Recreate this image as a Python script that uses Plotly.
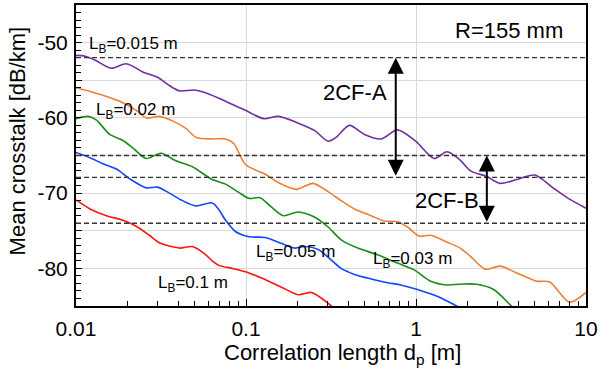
import math
import plotly.graph_objects as go

# ---------------- data ----------------
dp_015 = [0.0100, 0.0113, 0.0129, 0.0161, 0.0198, 0.0247, 0.0302, 0.0354, 0.0405, 0.0495,
          0.0566, 0.0693, 0.0828, 0.0993, 0.127, 0.155, 0.203, 0.254, 0.304, 0.338,
          0.406, 0.498, 0.622, 0.778, 0.995, 1.28, 1.52, 1.82, 2.08, 2.61,
          3.12, 3.91, 5.00, 6.40, 8.00, 10.0]
xt_015 = [-51.7, -51.8, -52.3, -53.4, -52.8, -53.9, -54.6, -55.7, -56.4, -56.3,
          -56.6, -57.4, -58.2, -59.0, -60.1, -59.8, -60.7, -61.7, -63.1, -62.6,
          -61.0, -62.2, -62.8, -61.6, -63.1, -65.4, -64.5, -65.6, -67.0, -67.8,
          -68.7, -68.2, -67.6, -69.3, -70.8, -72.0]

dp_02 = [0.0100, 0.0121, 0.0144, 0.0181, 0.0226, 0.0259, 0.0309, 0.0370, 0.0443, 0.0510,
         0.0633, 0.0758, 0.0847, 0.0993, 0.130, 0.155, 0.198, 0.248, 0.304,
         0.363, 0.435, 0.544, 0.651, 0.778, 0.891, 1.04, 1.22, 1.52, 1.82,
         2.09, 2.55, 3.12, 3.91, 5.11, 6.12, 8.00, 10.0]
xt_02 = [-56.0, -56.5, -57.0, -57.8, -59.0, -60.0, -59.8, -60.4, -61.4, -62.6,
         -62.8, -62.8, -63.4, -66.2, -67.5, -68.6, -69.5, -68.7, -69.8,
         -71.0, -72.1, -73.0, -73.7, -73.8, -74.5, -75.7, -75.6, -76.5, -77.3,
         -78.4, -80.1, -79.7, -80.6, -81.7, -81.8, -84.5, -83.2]

dp_03 = [0.0100, 0.0118, 0.0132, 0.0158, 0.0189, 0.0216, 0.0259, 0.0316, 0.0387, 0.0484,
         0.0633, 0.0758, 0.0906, 0.104, 0.121, 0.142, 0.166, 0.203, 0.254,
         0.304, 0.363, 0.455, 0.595, 0.778, 0.975, 1.22, 1.52, 1.82, 2.28,
         2.86, 3.57, 4.20]
xt_03 = [-60.1, -59.8, -60.3, -62.2, -63.0, -64.0, -65.4, -64.7, -65.7, -66.5,
         -68.2, -68.8, -69.9, -70.7, -70.6, -71.9, -73.0, -72.5, -73.2,
         -74.5, -76.2, -77.3, -78.2, -79.3, -80.2, -81.7, -82.2, -82.1, -82.1,
         -82.8, -84.8, -86.5]

dp_05 = [0.0100, 0.0121, 0.0144, 0.0173, 0.0207, 0.0259, 0.0302, 0.0354, 0.0423, 0.0507,
         0.0633, 0.0693, 0.0758, 0.0867, 0.104, 0.130, 0.162, 0.194, 0.222, 0.266,
         0.318, 0.363, 0.435, 0.544, 0.681, 0.814, 1.02, 1.33, 1.67, 2.00]
xt_05 = [-64.6, -65.3, -66.1, -66.8, -68.1, -69.3, -69.2, -70.0, -71.0, -71.7,
         -71.3, -72.2, -73.6, -75.1, -75.8, -75.9, -76.7, -77.3, -77.1, -77.5,
         -78.9, -80.0, -80.8, -81.4, -81.9, -82.2, -82.8, -83.7, -84.8, -85.8]

dp_1 = [0.0100, 0.0121, 0.0151, 0.0189, 0.0226, 0.0270, 0.0309, 0.0405, 0.0484, 0.0566,
        0.0633, 0.0693, 0.0828, 0.104, 0.130, 0.162, 0.203, 0.243, 0.291, 0.318, 0.350]
xt_1 = [-70.9, -72.1, -73.0, -73.6, -74.4, -75.6, -76.6, -77.3, -77.1, -78.0,
        -79.0, -79.6, -80.0, -80.6, -81.5, -82.5, -83.5, -83.2, -84.3, -85.0, -85.8]

dashed_levels = [-52.0, -65.0, -67.9, -74.0]

x_tick_vals = [0.01, 0.1, 1, 10]
x_tick_text = ["0.01", "0.1", "1", "10"]
y_tick_vals = [-85, -80, -75, -70, -65, -60, -55, -50, -45]
y_tick_text = ["", "-80", "", "-70", "", "-60", "", "-50", ""]

# ---------------- figure ----------------
FONT = "Liberation Sans, Arial, sans-serif"
series = [
    (dp_015, xt_015, "#7030A0"),
    (dp_02, xt_02, "#EE7F35"),
    (dp_03, xt_03, "#1A8C1A"),
    (dp_05, xt_05, "#1446FF"),
    (dp_1, xt_1, "#FF1414"),
]

fig = go.Figure()
for xs, ys, col in series:
    fig.add_trace(go.Scatter(x=xs, y=ys, mode="lines",
                             line=dict(color=col, width=1.6, shape="spline", smoothing=0.8),
                             showlegend=False, hoverinfo="skip"))

for lv in dashed_levels:
    fig.add_shape(type="line", xref="paper", x0=0, x1=1, yref="y", y0=lv, y1=lv,
                  line=dict(color="#333333", width=1.3, dash="5px,3px"), layer="above")

minor_x = [m * 10 ** e for e in (-2, -1, 0) for m in range(2, 10)]
minor_y = [v for v in range(-85, -44) if v % 5 != 0]

fig.update_xaxes(type="log", range=[-2, 1],
                 tickvals=x_tick_vals, ticktext=x_tick_text,
                 ticks="inside", ticklen=7, tickwidth=1.2, tickcolor="black",
                 showgrid=True, gridcolor="#d9d9d9", gridwidth=1,
                 minor=dict(tickvals=minor_x, ticks="inside", ticklen=5, tickwidth=1.2,
                            tickcolor="black", showgrid=False),
                 showline=True, linecolor="black", linewidth=2, mirror=True,
                 tickfont=dict(family=FONT, size=21, color="black"),
                 ticklabelstandoff=3, ticklabeloverflow="allow", zeroline=False)
fig.update_yaxes(range=[-85, -45],
                 tickvals=y_tick_vals, ticktext=y_tick_text,
                 ticks="inside", ticklen=6, tickwidth=1.2, tickcolor="black",
                 showgrid=True, gridcolor="#d9d9d9", gridwidth=1,
                 minor=dict(tickvals=minor_y, ticks="inside", ticklen=5, tickwidth=1.2,
                            tickcolor="black", showgrid=False),
                 showline=True, linecolor="black", linewidth=2, mirror=True,
                 tickfont=dict(family=FONT, size=21, color="black"),
                 ticklabelstandoff=2, zeroline=False)

# arrows (double headed)
arrow_specs = [(0.76, -52.0, -67.9), (2.61, -65.0, -74.0)]
for xa, ytop, ybot in arrow_specs:
    fig.add_annotation(x=math.log10(xa), y=ytop, ax=math.log10(xa), ay=ybot,
                       xref="x", yref="y", axref="x", ayref="y",
                       showarrow=True, arrowhead=2, arrowsize=1.6, arrowwidth=2,
                       arrowside="end+start", arrowcolor="black",
                       standoff=0, startstandoff=0, text="")

def label(txt, x, y, size):
    fig.add_annotation(x=x, y=y, xref="x", yref="y", text=txt, showarrow=False,
                       font=dict(family=FONT, size=size, color="black"),
                       xanchor="center", yanchor="middle")

label("L<sub>B</sub>=0.015 m", -1.661, -50.3, 17)
label("L<sub>B</sub>=0.02 m", -1.650, -59.1, 17)
label("L<sub>B</sub>=0.05 m", -0.710, -77.9, 17)
label("L<sub>B</sub>=0.03 m", -0.021, -78.9, 17)
label("L<sub>B</sub>=0.1 m", -1.311, -82.1, 17)
label("R=155 mm", 0.545, -48.4, 22)
label("2CF-A", -0.360, -56.6, 22)
label("2CF-B", 0.183, -71.0, 22)

# axis titles
fig.add_annotation(x=0.523, y=-0.16, xref="paper", yref="paper",
                   text="Correlation length d<sub>p</sub> [m]", showarrow=False,
                   font=dict(family=FONT, size=22, color="black"),
                   xanchor="center", yanchor="middle")
fig.add_annotation(x=-0.115, y=0.548, xref="paper", yref="paper",
                   text="Mean crosstalk [dB/km]", showarrow=False, textangle=-90,
                   font=dict(family=FONT, size=22, color="black"),
                   xanchor="center", yanchor="middle")

fig.update_layout(width=601, height=375, autosize=False,
                  margin=dict(l=76, r=11, t=3, b=69, pad=0),
                  paper_bgcolor="white", plot_bgcolor="white",
                  showlegend=False)

fig.write_html("out.html")
